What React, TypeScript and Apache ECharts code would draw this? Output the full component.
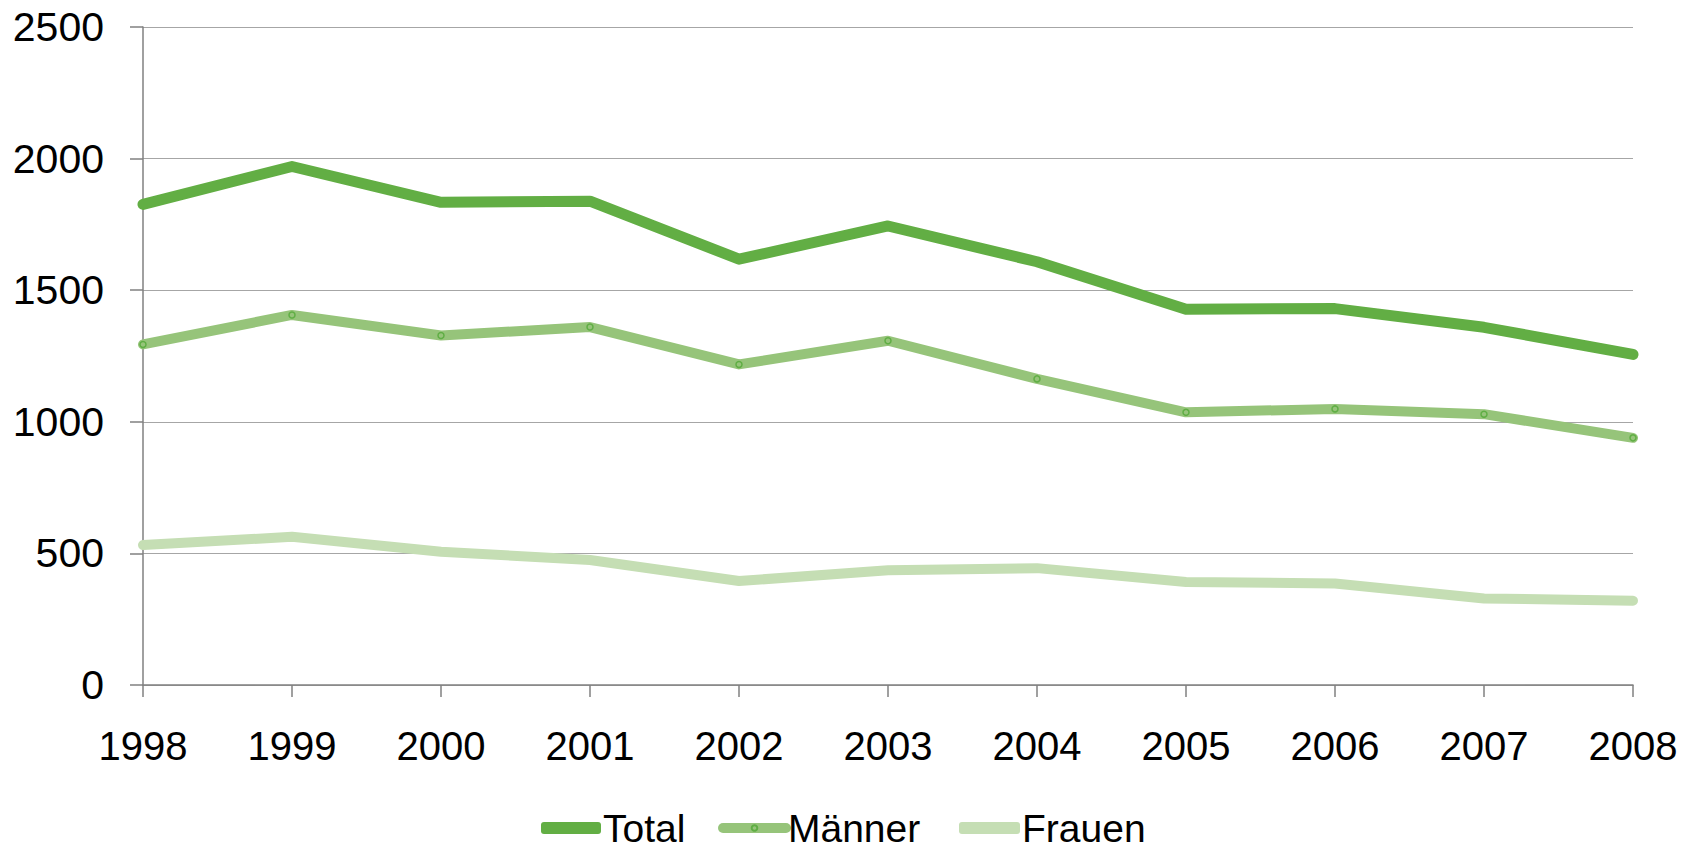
import React, { useEffect, useRef } from "react";
import * as echarts from "echarts";

const years = ["1998", "1999", "2000", "2001", "2002", "2003", "2004", "2005", "2006", "2007", "2008"];
const total = [1826, 1970, 1834, 1838, 1618, 1744, 1608, 1428, 1430, 1359, 1256];
const maenner = [1294, 1406, 1328, 1360, 1218, 1308, 1163, 1036, 1049, 1029, 939];
const frauen = [532, 563, 506, 475, 395, 436, 444, 391, 386, 329, 320];

const FONT = "'Liberation Sans', Arial, sans-serif";

const legendText = { fontFamily: FONT, fontSize: 39, lineHeight: 40, color: "#000", padding: [0, 0, 0, -3] };

export default function App() {
  const ref = useRef<HTMLDivElement>(null);
  useEffect(() => {
    if (!ref.current) return;
    const chart = echarts.init(ref.current, undefined, { renderer: "svg" });
    chart.setOption({
      animation: false,
      backgroundColor: "#ffffff",
      grid: { left: 143, right: 63, top: 27, bottom: 165, containLabel: false },
      legend: [
        {
          top: 808,
          left: 541,
          padding: 0,
          itemWidth: 60,
          itemHeight: 12,
          textStyle: legendText,
          data: [{ name: "Total", icon: "roundRect" }],
        },
        {
          top: 808,
          left: 718,
          padding: 0,
          itemWidth: 63,
          itemHeight: 7,
          textStyle: legendText,
          lineStyle: { width: "inherit", cap: "round" },
          data: ["Männer"],
        },
        {
          top: 808,
          left: 959,
          padding: 0,
          itemWidth: 61,
          itemHeight: 12,
          textStyle: legendText,
          data: [{ name: "Frauen", icon: "roundRect" }],
        },
      ],
      xAxis: {
        type: "category",
        data: years,
        boundaryGap: false,
        axisLine: { lineStyle: { color: "#808080", width: 1.5 } },
        axisTick: { show: true, length: 12, lineStyle: { color: "#808080", width: 1.5 } },
        axisLabel: { fontFamily: FONT, fontSize: 40, color: "#000", margin: 41 },
        splitLine: { show: false },
      },
      yAxis: {
        type: "value",
        min: 0,
        max: 2500,
        interval: 500,
        axisLine: { show: true, lineStyle: { color: "#808080", width: 1.5 } },
        axisTick: { show: true, length: 13, lineStyle: { color: "#808080", width: 1.5 } },
        axisLabel: { fontFamily: FONT, fontSize: 41, color: "#000", margin: 39, formatter: (v: number) => String(v) },
        splitLine: { show: true, lineStyle: { color: "#A6A6A6", width: 1.2 } },
      },
      series: [
        {
          name: "Total",
          type: "line",
          data: total,
          symbol: "none",
          color: "#62AE44",
          lineStyle: { color: "#62AE44", width: 11, cap: "round", join: "round" },
        },
        {
          name: "Männer",
          type: "line",
          data: maenner,
          symbol: "circle",
          symbolSize: 6,
          showSymbol: true,
          color: "#96C47A",
          itemStyle: { color: "#96C47A", borderColor: "#5FAE44", borderWidth: 1.5 },
          lineStyle: { color: "#96C47A", width: 10, cap: "round", join: "round" },
        },
        {
          name: "Frauen",
          type: "line",
          data: frauen,
          symbol: "none",
          color: "#C5DEB4",
          lineStyle: { color: "#C5DEB4", width: 10, cap: "round", join: "round" },
        },
      ],
    });
    return () => chart.dispose();
  }, []);
  return <div ref={ref} style={{ width: 1696, height: 850, position: "absolute", left: 0, top: 0 }} />;
}
